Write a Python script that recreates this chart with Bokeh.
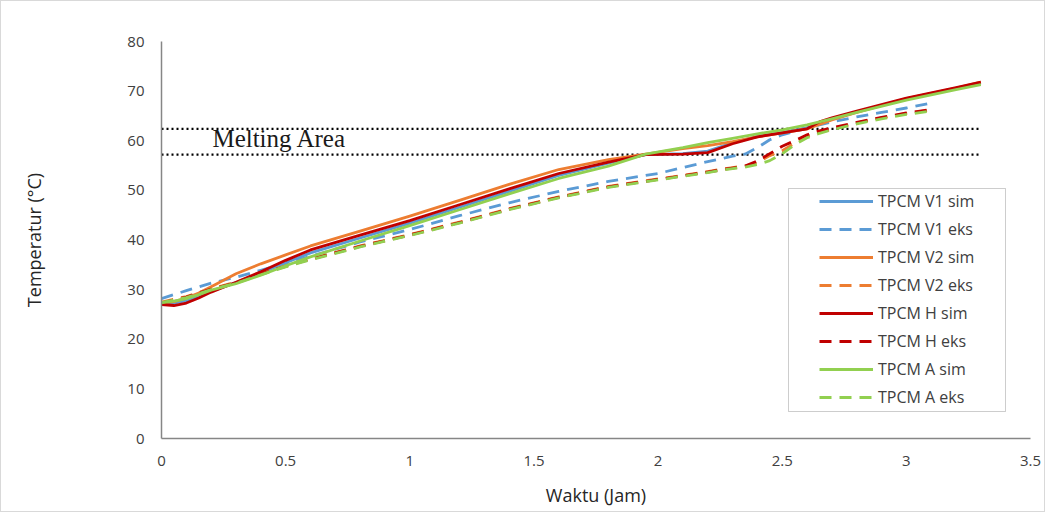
from bokeh.plotting import figure
from bokeh.models import Range1d, FixedTicker, Legend, LegendItem, BoxAnnotation, Label
from bokeh.embed import file_html
from bokeh.resources import INLINE

# ---------------- data ----------------
x_ticks = [0, 0.5, 1, 1.5, 2, 2.5, 3, 3.5]
x_tick_labels = ["0", "0.5", "1", "1.5", "2", "2.5", "3", "3.5"]
y_ticks = [0, 10, 20, 30, 40, 50, 60, 70, 80]

t_sim = [0, 0.05, 0.1, 0.15, 0.2, 0.3, 0.4, 0.5, 0.6, 0.8, 1.0, 1.2, 1.4, 1.6, 1.8, 1.95,
         2.1, 2.2, 2.3, 2.4, 2.5, 2.6, 2.65, 2.7, 2.8, 3.0, 3.2, 3.3]
v1_sim = [27.2, 27.3, 27.8, 28.6, 29.7, 31.4, 33.3, 35.4, 37.4, 40.4, 43.4, 46.6, 49.8, 53.0, 55.5, 57.2,
          57.4, 57.9, 59.6, 60.9, 61.7, 62.6, 63.5, 64.4, 65.8, 68.4, 70.5, 71.6]
v2_sim = [27.3, 27.6, 28.3, 29.3, 30.6, 33.2, 35.2, 37.0, 38.8, 41.8, 44.8, 48.0, 51.2, 54.2, 56.2, 57.3,
          58.4, 59.0, 59.8, 60.8, 61.6, 62.4, 63.3, 64.2, 65.7, 68.5, 70.6, 71.8]
h_sim = [27.0, 26.8, 27.3, 28.3, 29.5, 31.5, 33.6, 35.9, 38.0, 41.0, 43.9, 47.1, 50.3, 53.4, 55.7, 57.2,
         57.3, 57.6, 59.4, 60.8, 61.6, 62.4, 63.8, 64.6, 66.0, 68.6, 70.7, 71.8]
a_sim = [27.4, 27.7, 28.2, 29.0, 29.9, 31.2, 32.9, 34.8, 36.6, 39.8, 42.9, 46.1, 49.3, 52.4, 54.9, 57.3,
         58.6, 59.6, 60.5, 61.4, 62.2, 63.2, 63.8, 64.4, 65.7, 68.2, 70.3, 71.3]

t_eks = [0, 0.1, 0.2, 0.3, 0.4, 0.5, 0.6, 0.8, 1.0, 1.2, 1.4, 1.6, 1.8, 2.0, 2.2, 2.3,
         2.35, 2.4, 2.45, 2.5, 2.55, 2.6, 2.65, 2.7, 2.8, 2.9, 3.0, 3.1]
v1_eks = [28.2, 29.8, 31.3, 32.5, 33.9, 35.3, 36.7, 39.6, 42.1, 44.9, 47.5, 49.8, 51.8, 53.4, 55.8, 56.9,
          57.3, 58.6, 60.2, 61.2, 61.9, 62.6, 63.2, 63.8, 64.8, 65.7, 66.6, 67.6]
v2_eks = [27.5, 28.6, 30.2, 31.5, 33.2, 34.8, 36.2, 38.8, 41.1, 43.6, 46.3, 48.7, 50.8, 52.3, 53.8, 54.6,
          54.9, 55.6, 57.0, 58.0, 59.5, 60.9, 61.7, 62.3, 63.6, 64.6, 65.5, 66.2]
h_eks = [27.3, 28.5, 30.1, 31.4, 33.1, 34.7, 36.1, 38.7, 41.0, 43.5, 46.2, 48.6, 50.7, 52.2, 53.7, 54.5,
         54.9, 55.9, 57.4, 58.9, 60.0, 61.2, 62.0, 62.6, 63.7, 64.7, 65.6, 66.3]
a_eks = [27.4, 28.4, 30.0, 31.3, 33.0, 34.6, 36.0, 38.6, 40.9, 43.4, 46.1, 48.5, 50.6, 52.1, 53.6, 54.4,
         54.7, 55.2, 56.0, 57.4, 59.2, 60.6, 61.5, 62.2, 63.4, 64.4, 65.3, 66.0]

melt_x = [0, 3.3]
melt_low = 57.2
melt_high = 62.4
melt_text = "Melting Area"
melt_text_pos = (0.205, 60.5)

series = [
    ("TPCM V1 sim", t_sim, v1_sim, "#5B9BD5", "solid"),
    ("TPCM V1 eks", t_eks, v1_eks, "#5B9BD5", "dashed"),
    ("TPCM V2 sim", t_sim, v2_sim, "#ED7D31", "solid"),
    ("TPCM V2 eks", t_eks, v2_eks, "#ED7D31", "dashed"),
    ("TPCM H sim", t_sim, h_sim, "#C00000", "solid"),
    ("TPCM H eks", t_eks, h_eks, "#C00000", "dashed"),
    ("TPCM A sim", t_sim, a_sim, "#92D050", "solid"),
    ("TPCM A eks", t_eks, a_eks, "#92D050", "dashed"),
]

# ---------------- figure ----------------
FONT = "Open Sans"
TXT = "#404040"

p = figure(frame_width=869, frame_height=397, output_backend="svg", toolbar_location=None,
           x_range=Range1d(0, 3.5), y_range=Range1d(0, 80),
           min_border_left=160, min_border_right=14, min_border_top=40, min_border_bottom=73)
p.outline_line_color = None
p.xgrid.visible = False
p.ygrid.visible = False
p.background_fill_color = "white"
p.border_fill_color = "white"

for ax in (p.xaxis[0], p.yaxis[0]):
    ax.axis_line_color = "#868686"
    ax.axis_line_width = 1.5
    ax.major_tick_line_color = None
    ax.minor_tick_line_color = None
    ax.major_tick_out = 0
    ax.major_tick_in = 0
    ax.major_label_text_font = FONT
    ax.major_label_text_font_size = "15px"
    ax.major_label_text_color = TXT
    ax.axis_label_text_font = FONT
    ax.axis_label_text_font_size = "18px"
    ax.axis_label_text_font_style = "normal"
    ax.axis_label_text_color = "#262626"

p.xaxis[0].ticker = FixedTicker(ticks=x_ticks)
p.xaxis[0].major_label_overrides = {tk: lb for tk, lb in zip(x_ticks, x_tick_labels)}
p.yaxis[0].ticker = FixedTicker(ticks=y_ticks)
p.xaxis[0].major_label_standoff = 17
p.yaxis[0].major_label_standoff = 17
p.xaxis[0].axis_label = "Waktu (Jam)"
p.yaxis[0].axis_label = "Temperatur (°C)"
p.xaxis[0].axis_label_standoff = 14
p.yaxis[0].axis_label_standoff = 78

# melting area lines
for lvl in (melt_low, melt_high):
    p.line(melt_x, [lvl] * len(melt_x), line_color="black", line_width=2.2, line_dash="2 3")

p.add_layout(Label(x=melt_text_pos[0], y=melt_text_pos[1], text=melt_text,
                   text_font="Liberation Serif", text_font_size="25px", text_color="#1a1a1a",
                   text_baseline="middle"))

items = []
for name, xs, ys, col, style in series:
    dash = "solid" if style == "solid" else "12 8"
    r = p.line(xs, ys, line_color=col, line_width=2.8, line_dash=dash, line_join="round")
    items.append(LegendItem(label=name, renderers=[r]))

# legend frame
box = BoxAnnotation(left=627, right=844, bottom=27, top=250,
                    left_units="screen", right_units="screen", bottom_units="screen", top_units="screen",
                    fill_color="white", fill_alpha=1.0, line_color="#595959", line_width=1, level="overlay")
p.add_layout(box)

legend = Legend(items=items, location=(658, 30), padding=0, margin=0, spacing=6,
                label_height=20, glyph_height=20, glyph_width=54, label_standoff=5,
                label_text_font=FONT, label_text_font_size="16px", label_text_color=TXT,
                border_line_color=None, background_fill_alpha=0)
p.add_layout(legend)

p.styles = {"border": "1px solid #d9d9d9"}

open("out.html", "w").write(file_html(p, INLINE))
